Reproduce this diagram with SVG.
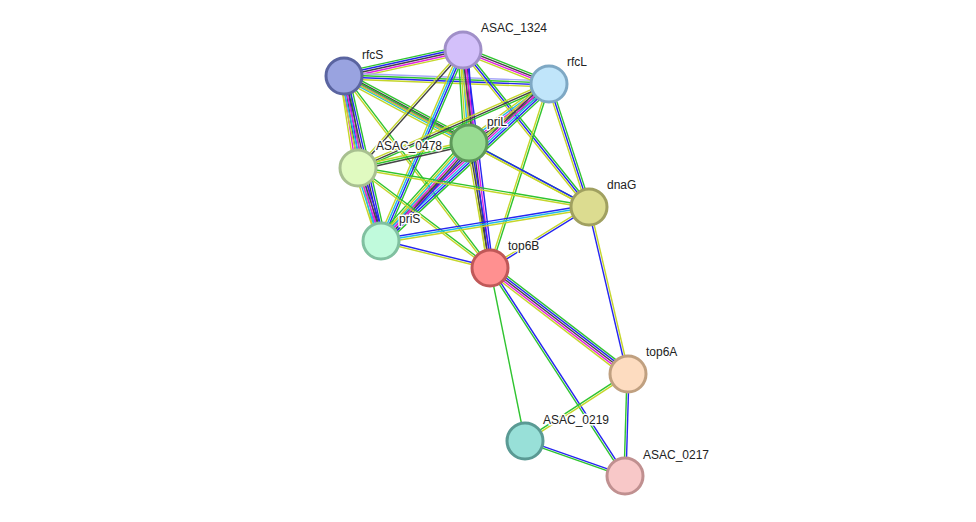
<svg xmlns="http://www.w3.org/2000/svg" width="976" height="522" viewBox="0 0 976 522">
<style>
line{stroke-width:1.4;fill:none}
.g{stroke:#2fc42f}.y{stroke:#c5d62a}.b{stroke:#2525f0}.k{stroke:#444}.m{stroke:#e020e0}.c{stroke:#20b8e8}.v{stroke:#a8a8f8}
.node circle{stroke-width:3}
text{font-family:"Liberation Sans",Arial,sans-serif;font-size:12px;fill:#222;stroke:#fff;stroke-width:3;paint-order:stroke;stroke-linejoin:round}
</style>
<rect width="976" height="522" fill="#fff"/>
<g id="edges">
<g transform="translate(344 76) rotate(-12.32)"><line x2="121.8" y1="-4" y2="-4" class="g"/><line x2="121.8" y1="-2" y2="-2" class="b"/><line x2="121.8" class="k"/><line x2="121.8" y1="2" y2="2" class="m"/><line x2="121.8" y1="4" y2="4" class="y"/></g>
<g transform="translate(344 76) rotate(2.23)"><line x2="205.2" y1="-3" y2="-3" class="v"/><line x2="205.2" y1="-1" y2="-1" class="g"/><line x2="205.2" y1="1" y2="1" class="b"/><line x2="205.2" y1="3" y2="3" class="y"/></g>
<g transform="translate(344 76) rotate(28.19)"><line x2="141.8" y1="-4" y2="-4" class="g"/><line x2="141.8" y1="-2" y2="-2" class="k"/><line x2="141.8" class="m"/><line x2="141.8" y1="2" y2="2" class="c"/><line x2="141.8" y1="4" y2="4" class="y"/></g>
<g transform="translate(344 76) rotate(81.35)"><line x2="93.1" y1="-4" y2="-4" class="g"/><line x2="93.1" y1="-2" y2="-2" class="b"/><line x2="93.1" class="k"/><line x2="93.1" y1="2" y2="2" class="m"/><line x2="93.1" y1="4" y2="4" class="y"/></g>
<g transform="translate(344 76) rotate(77.36)"><line x2="169.1" y1="-5" y2="-5" class="g"/><line x2="169.1" y1="-3" y2="-3" class="b"/><line x2="169.1" y1="-1" y2="-1" class="k"/><line x2="169.1" y1="1" y2="1" class="m"/><line x2="169.1" y1="3" y2="3" class="c"/><line x2="169.1" y1="5" y2="5" class="y"/></g>
<g transform="translate(344 76) rotate(28.13)"><line x2="277.8" y1="-1" y2="-1" class="g"/><line x2="277.8" y1="1" y2="1" class="y"/></g>
<g transform="translate(344 76) rotate(52.75)"><line x2="241.2" y1="-1" y2="-1" class="g"/><line x2="241.2" y1="1" y2="1" class="y"/></g>
<g transform="translate(463 50) rotate(21.57)"><line x2="92.5" y1="-3" y2="-3" class="g"/><line x2="92.5" y1="-1" y2="-1" class="k"/><line x2="92.5" y1="1" y2="1" class="m"/><line x2="92.5" y1="3" y2="3" class="y"/></g>
<g transform="translate(463 50) rotate(86.31)"><line x2="93.2" y1="-5" y2="-5" class="b"/><line x2="93.2" y1="-3" y2="-3" class="k"/><line x2="93.2" y1="-1" y2="-1" class="m"/><line x2="93.2" y1="1" y2="1" class="c"/><line x2="93.2" y1="3" y2="3" class="y"/><line x2="93.2" y1="5" y2="5" class="g"/></g>
<g transform="translate(463 50) rotate(131.66)"><line x2="158" y1="-1" y2="-1" class="k"/><line x2="158" y1="1" y2="1" class="y"/></g>
<g transform="translate(463 50) rotate(113.24)"><line x2="207.9" y1="-3" y2="-3" class="g"/><line x2="207.9" y1="-1" y2="-1" class="b"/><line x2="207.9" y1="1" y2="1" class="c"/><line x2="207.9" y1="3" y2="3" class="y"/></g>
<g transform="translate(463 50) rotate(82.94)"><line x2="219.7" y1="-3" y2="-3" class="b"/><line x2="219.7" y1="-1" y2="-1" class="m"/><line x2="219.7" y1="1" y2="1" class="k"/><line x2="219.7" y1="3" y2="3" class="y"/></g>
<g transform="translate(463 50) rotate(51.25)"><line x2="201.3" y1="-2" y2="-2" class="g"/><line x2="201.3" class="b"/><line x2="201.3" y1="2" y2="2" class="y"/></g>
<g transform="translate(549 84) rotate(143.59)"><line x2="99.4" y1="-4" y2="-4" class="g"/><line x2="99.4" y1="-2" y2="-2" class="k"/><line x2="99.4" class="m"/><line x2="99.4" y1="2" y2="2" class="c"/><line x2="99.4" y1="4" y2="4" class="y"/></g>
<g transform="translate(549 84) rotate(156.26)"><line x2="208.7" y1="-2" y2="-2" class="g"/><line x2="208.7" class="k"/><line x2="208.7" y1="2" y2="2" class="y"/></g>
<g transform="translate(549 84) rotate(136.94)"><line x2="229.9" y1="-5" y2="-5" class="g"/><line x2="229.9" y1="-3" y2="-3" class="b"/><line x2="229.9" y1="-1" y2="-1" class="c"/><line x2="229.9" y1="1" y2="1" class="m"/><line x2="229.9" y1="3" y2="3" class="k"/><line x2="229.9" y1="5" y2="5" class="y"/></g>
<g transform="translate(549 84) rotate(71.99)"><line x2="129.3" y1="-2" y2="-2" class="g"/><line x2="129.3" class="b"/><line x2="129.3" y1="2" y2="2" class="y"/></g>
<g transform="translate(549 84) rotate(107.78)"><line x2="193.2" y1="-1" y2="-1" class="g"/><line x2="193.2" y1="1" y2="1" class="y"/></g>
<g transform="translate(469 143) rotate(167.31)"><line x2="113.8" y1="-2" y2="-2" class="k"/><line x2="113.8" class="g"/><line x2="113.8" y1="2" y2="2" class="y"/></g>
<g transform="translate(469 143) rotate(131.92)"><line x2="131.7" y1="-5" y2="-5" class="b"/><line x2="131.7" y1="-3" y2="-3" class="k"/><line x2="131.7" y1="-1" y2="-1" class="m"/><line x2="131.7" y1="1" y2="1" class="c"/><line x2="131.7" y1="3" y2="3" class="y"/><line x2="131.7" y1="5" y2="5" class="g"/></g>
<g transform="translate(469 143) rotate(28.07)"><line x2="136" y1="-1" y2="-1" class="b"/><line x2="136" y1="1" y2="1" class="y"/></g>
<g transform="translate(469 143) rotate(80.46)"><line x2="126.8" y1="-2" y2="-2" class="b"/><line x2="126.8" class="k"/><line x2="126.8" y1="2" y2="2" class="y"/></g>
<g transform="translate(358 168) rotate(72.51)"><line x2="76.5" y1="-4" y2="-4" class="b"/><line x2="76.5" y1="-2" y2="-2" class="k"/><line x2="76.5" class="m"/><line x2="76.5" y1="2" y2="2" class="c"/><line x2="76.5" y1="4" y2="4" class="y"/></g>
<g transform="translate(358 168) rotate(9.58)"><line x2="234.3" y1="-1" y2="-1" class="g"/><line x2="234.3" y1="1" y2="1" class="y"/></g>
<g transform="translate(358 168) rotate(37.15)"><line x2="165.6" y1="-1" y2="-1" class="g"/><line x2="165.6" y1="1" y2="1" class="y"/></g>
<g transform="translate(381 241) rotate(-9.28)"><line x2="210.8" y1="-2" y2="-2" class="b"/><line x2="210.8" class="c"/><line x2="210.8" y1="2" y2="2" class="y"/></g>
<g transform="translate(381 241) rotate(13.91)"><line x2="112.3" y1="-1" y2="-1" class="b"/><line x2="112.3" y1="1" y2="1" class="y"/></g>
<g transform="translate(589 207) rotate(148.36)"><line x2="116.3" y1="-1" y2="-1" class="b"/><line x2="116.3" y1="1" y2="1" class="y"/></g>
<g transform="translate(589 207) rotate(76.85)"><line x2="171.5" y1="-1" y2="-1" class="y"/><line x2="171.5" y1="1" y2="1" class="b"/></g>
<g transform="translate(490 268) rotate(37.53)"><line x2="174" y1="-4" y2="-4" class="g"/><line x2="174" y1="-2" y2="-2" class="b"/><line x2="174" class="k"/><line x2="174" y1="2" y2="2" class="m"/><line x2="174" y1="4" y2="4" class="y"/></g>
<g transform="translate(490 268) rotate(78.56)"><line x2="176.5" class="g"/></g>
<g transform="translate(490 268) rotate(57.02)"><line x2="248" y1="-1" y2="-1" class="b"/><line x2="248" y1="1" y2="1" class="g"/></g>
<g transform="translate(628 374) rotate(146.96)"><line x2="122.9" y1="-1" y2="-1" class="y"/><line x2="122.9" y1="1" y2="1" class="g"/></g>
<g transform="translate(628 374) rotate(91.68)"><line x2="102" y1="-1" y2="-1" class="b"/><line x2="102" y1="1" y2="1" class="g"/></g>
<g transform="translate(525 441) rotate(19.29)"><line x2="105.9" y1="-1" y2="-1" class="b"/><line x2="105.9" y1="1" y2="1" class="g"/></g>
</g>
<g id="rfcS" class="node"><circle cx="344" cy="76" r="18" fill="#99a3e0" stroke="#5a64a0"/><text x="362" y="59">rfcS</text></g>
<g id="ASAC_1324" class="node"><circle cx="463" cy="50" r="18" fill="#d3c0fa" stroke="#a08fc8"/><text x="481" y="32">ASAC_1324</text></g>
<g id="rfcL" class="node"><circle cx="549" cy="84" r="18" fill="#c0e5fa" stroke="#7ea8c4"/><text x="567" y="66">rfcL</text></g>
<g id="priL" class="node"><circle cx="469" cy="143" r="18" fill="#98dc92" stroke="#5e9a5a"/><text x="487" y="126">priL</text></g>
<g id="ASAC_0478" class="node"><circle cx="358" cy="168" r="18" fill="#e0fac0" stroke="#a8c090"/><text x="376" y="150">ASAC_0478</text></g>
<g id="dnaG" class="node"><circle cx="589" cy="207" r="18" fill="#dcdc90" stroke="#a0a060"/><text x="607" y="189">dnaG</text></g>
<g id="priS" class="node"><circle cx="381" cy="241" r="18" fill="#c0fadc" stroke="#80c0a0"/><text x="399" y="223">priS</text></g>
<g id="top6B" class="node"><circle cx="490" cy="268" r="18" fill="#ff9090" stroke="#c05858"/><text x="508" y="250">top6B</text></g>
<g id="top6A" class="node"><circle cx="628" cy="374" r="18" fill="#fddcc0" stroke="#c0a080"/><text x="646" y="356">top6A</text></g>
<g id="ASAC_0219" class="node"><circle cx="525" cy="441" r="18" fill="#98e0d8" stroke="#5a9a94"/><text x="543" y="424">ASAC_0219</text></g>
<g id="ASAC_0217" class="node"><circle cx="625" cy="476" r="18" fill="#f8c8c8" stroke="#c09090"/><text x="643" y="459">ASAC_0217</text></g>
</svg>
